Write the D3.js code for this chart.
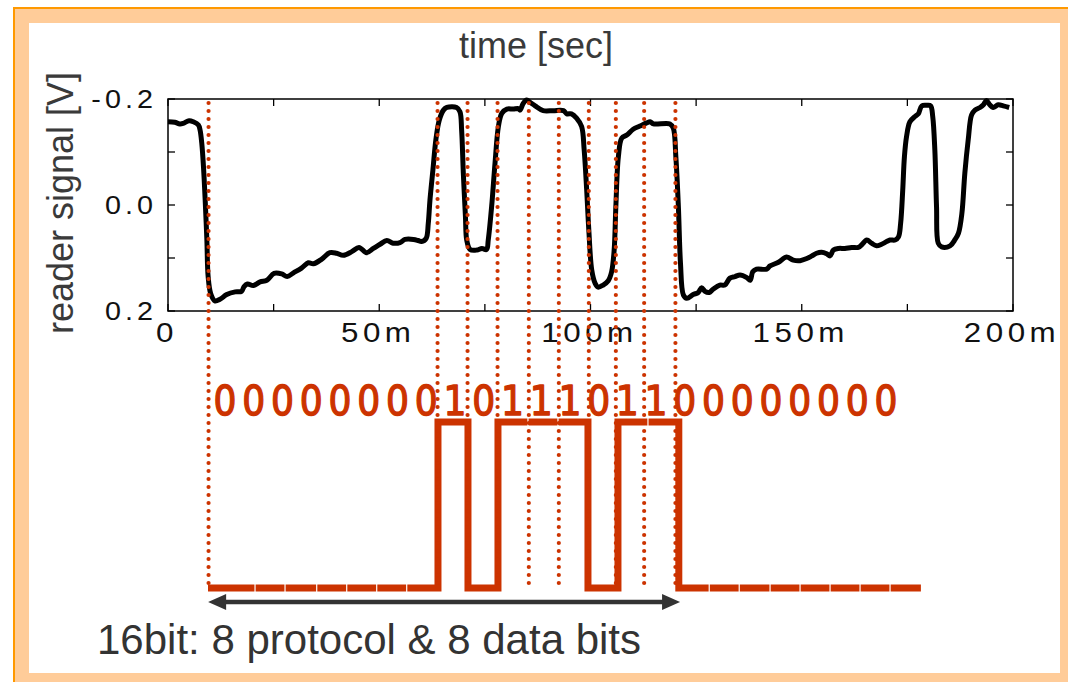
<!DOCTYPE html>
<html>
<head>
<meta charset="utf-8">
<script src="https://cdn.jsdelivr.net/npm/d3@7"></script>
<style>
  html, body { margin: 0; padding: 0; background: #ffffff; }
  svg { display: block; }
</style>
</head>
<body>
<div id="chart"></div>
<script>
// ---------------- DATA ----------------
const signalTime = [0,1.6,2.8,3.6,5.0,6.0,7.2,7.6,8.0,8.4,8.8,9.2,9.5,10.1,11.1,12.3,13.9,15.9,17.4,18.0,18.8,20.2,21.8,23.4,25.1,26.9,28.2,29.7,31.6,33.2,34.4,36.4,38.3,39.9,41.5,43.5,45.2,47.0,48.6,50.2,51.8,53.3,54.9,56.1,58.1,59.2,60.0,61.1,61.6,62.0,62.7,63.4,64.2,65.2,66.0,68.3,69.1,69.5,69.9,70.4,70.7,71.5,73.1,74.3,75.4,75.8,76.6,77.4,78.2,79.0,80.2,81.7,82.9,83.3,84.1,84.9,85.8,86.9,88.8,91.2,93.6,94.4,95.5,96.7,97.9,98.5,99.1,99.6,100.3,101.1,101.8,103.0,104.2,105.0,105.6,106.0,106.6,107.4,108.6,110.1,111.7,113.3,114.1,114.9,118.8,119.6,120.2,120.8,121.3,122.0,122.8,124.3,125.5,126.3,127.1,128.1,129.0,130.6,131.8,133.0,134.2,135.4,137.0,137.8,138.4,139.3,141.7,142.5,144.5,146.4,148.0,149.6,151.2,152.4,153.5,154.7,155.9,156.7,157.5,158.7,160.2,161.8,163.4,164.2,165.4,166.5,167.7,168.9,170.1,170.9,172.1,172.9,173.4,173.9,174.3,174.8,175.6,176.8,177.6,178.4,179.6,180.5,181.0,181.5,181.9,182.3,183.1,185.1,186.3,187.1,187.9,188.6,189.4,190.2,191.0,192.2,193.0,193.7,194.5,195.3,196.5,197.7,199.1];
const signalVolt = [-0.157,-0.156,-0.153,-0.154,-0.159,-0.157,-0.151,-0.141,-0.116,-0.072,-0.009,0.066,0.135,0.167,0.181,0.178,0.169,0.164,0.163,0.154,0.149,0.152,0.145,0.142,0.129,0.130,0.135,0.128,0.119,0.109,0.111,0.102,0.090,0.091,0.095,0.088,0.080,0.090,0.082,0.074,0.067,0.072,0.071,0.065,0.065,0.067,0.069,0.063,0.035,-0.009,-0.066,-0.123,-0.160,-0.179,-0.184,-0.184,-0.176,-0.141,-0.060,0.022,0.066,0.084,0.085,0.082,0.084,0.066,0.003,-0.079,-0.148,-0.173,-0.181,-0.181,-0.182,-0.179,-0.192,-0.198,-0.193,-0.187,-0.178,-0.178,-0.178,-0.172,-0.172,-0.164,-0.148,-0.104,-0.028,0.047,0.123,0.148,0.155,0.151,0.143,0.126,0.085,0.003,-0.091,-0.126,-0.132,-0.143,-0.149,-0.155,-0.157,-0.153,-0.153,-0.145,-0.091,0.003,0.110,0.170,0.176,0.169,0.165,0.156,0.163,0.165,0.159,0.151,0.151,0.138,0.135,0.132,0.137,0.142,0.126,0.121,0.121,0.115,0.108,0.098,0.104,0.105,0.101,0.096,0.091,0.089,0.092,0.096,0.085,0.082,0.082,0.080,0.080,0.075,0.066,0.072,0.077,0.074,0.069,0.066,0.066,0.060,0.035,-0.028,-0.091,-0.129,-0.157,-0.167,-0.172,-0.187,-0.188,-0.187,-0.167,-0.104,0.003,0.072,0.079,0.077,0.065,0.053,0.016,-0.060,-0.123,-0.170,-0.179,-0.184,-0.189,-0.197,-0.189,-0.184,-0.189,-0.187,-0.184];

const xTickValues = [0, 50, 100, 150, 200];
const xTickLabels = ["0", "50m", "100m", "150m", "200m"];
const xMinorTicks = [25, 75, 125, 175];
const yTickValues = [-0.2, 0.0, 0.2];
const yTickLabels = ["-0.2", "0.0", "0.2"];
const yMinorTicks = [-0.1, 0.1];

// bit boundary markers (ms)
const markerTimes = [9.6, 63.8, 70.9, 78.0, 85.4, 92.5, 99.6, 106.0, 112.7, 120.1];
// square wave: segment edges (ms) and level of each segment
const waveEdges = [9.47, 20.6, 27.7, 35.2, 42.3, 49.4, 56.5, 63.9, 71.0, 78.1, 85.2, 92.3, 99.4, 106.5, 113.6, 120.9, 128.1, 135.2, 142.5, 149.6, 156.7, 163.8, 170.9, 178.2];
const waveLevels = [0,0,0,0,0,0,0,1,0,1,1,1,0,1,1,0,0,0,0,0,0,0,0];
const bitString = "000000001011101100000000";
const arrowSpan = [9.5, 121.2];

const titleText = "time [sec]";
const yLabelText = "reader signal [V]";
const captionText = "16bit: 8 protocol & 8 data bits";

// ---------------- LAYOUT ----------------
const W = 1068, H = 682;
const red = "#cc3300", dark = "#333333";

const svg = d3.select("#chart").append("svg")
  .attr("width", W).attr("height", H)
  .attr("viewBox", `0 0 ${W} ${H}`);

// frame
svg.append("rect").attr("x", 14).attr("y", 8).attr("width", W + 20).attr("height", H + 20)
  .attr("fill", "#ffcc99").attr("stroke", "#ff9900").attr("stroke-width", 2);
svg.append("rect").attr("x", 29).attr("y", 23).attr("width", 1060 - 29).attr("height", 673 - 23)
  .attr("fill", "#ffffff");

const plot = { l: 168, r: 1013, t: 99, b: 311 };
const x = d3.scaleLinear().domain([0, 200]).range([plot.l, plot.r]);
const y = d3.scaleLinear().domain([-0.2, 0.2]).range([plot.t, plot.b]);
const yWave = d3.scaleLinear().domain([0, 1]).range([588, 422]);
const charX = d3.scaleLinear().domain([0, bitString.length - 1]).range([225, 886]);

// title
svg.append("text").attr("x", 536).attr("y", 58).attr("text-anchor", "middle")
  .attr("font-family", "Liberation Sans, Arial, sans-serif").attr("font-size", 36)
  .attr("fill", "#3a3a3a").text(titleText);

// y label
svg.append("text")
  .attr("transform", "translate(73,203) rotate(-90)")
  .attr("text-anchor", "middle")
  .attr("font-family", "Liberation Sans, Arial, sans-serif").attr("font-size", 36)
  .attr("fill", "#3a3a3a").text(yLabelText);

// axes box
svg.append("rect").attr("x", plot.l).attr("y", plot.t)
  .attr("width", plot.r - plot.l).attr("height", plot.b - plot.t)
  .attr("fill", "none").attr("stroke", "#000").attr("stroke-width", 1.5);

// ticks (inward, all four sides)
const tickLen = 7;
const allX = xTickValues.concat(xMinorTicks);
const allY = yTickValues.concat(yMinorTicks);
const tg = svg.append("g").attr("stroke", "#000").attr("stroke-width", 1.3);
allX.forEach(v => {
  tg.append("line").attr("x1", x(v)).attr("x2", x(v)).attr("y1", plot.b).attr("y2", plot.b - tickLen);
  tg.append("line").attr("x1", x(v)).attr("x2", x(v)).attr("y1", plot.t).attr("y2", plot.t + tickLen);
});
allY.forEach(v => {
  tg.append("line").attr("y1", y(v)).attr("y2", y(v)).attr("x1", plot.l).attr("x2", plot.l + tickLen);
  tg.append("line").attr("y1", y(v)).attr("y2", y(v)).attr("x1", plot.r).attr("x2", plot.r - tickLen);
});

// x tick labels
xTickValues.forEach((v, i) => {
  svg.append("g").attr("transform", `translate(${x(v) - 1},342)`)
    .append("text").attr("transform", "scale(1.12,1)")
    .attr("text-anchor", "middle")
    .attr("font-family", "Liberation Sans, Arial, sans-serif").attr("font-size", 28)
    .attr("letter-spacing", 4).attr("fill", "#111").text(xTickLabels[i]);
});
// y tick labels
yTickValues.forEach((v, i) => {
  svg.append("g").attr("transform", `translate(157,${y(v) + 9})`)
    .append("text").attr("transform", "scale(1.15,1)")
    .attr("text-anchor", "end")
    .attr("font-family", "Liberation Sans, Arial, sans-serif").attr("font-size", 25)
    .attr("letter-spacing", 3.5).attr("fill", "#111").text(yTickLabels[i]);
});

// signal line
const line = d3.line().x(d => x(d[0])).y(d => y(d[1])).curve(d3.curveCatmullRom.alpha(0.5));
svg.append("path").datum(signalTime.map((t, i) => [t, signalVolt[i]]))
  .attr("d", line).attr("fill", "none").attr("stroke", "#000")
  .attr("stroke-width", 5).attr("stroke-linejoin", "round");

// square wave
const gap = 0.6;
const wg = svg.append("g").attr("fill", "none").attr("stroke", red).attr("stroke-width", 7)
  .attr("stroke-linejoin", "miter").attr("stroke-linecap", "butt");
let d = "";
waveLevels.forEach((lv, i) => {
  const xa = x(waveEdges[i]), xb = x(waveEdges[i + 1]);
  const prev = i > 0 ? waveLevels[i - 1] : null;
  const next = i < waveLevels.length - 1 ? waveLevels[i + 1] : null;
  const ya = yWave(lv);
  if (prev === null || prev === lv) {
    d += `M${xa + (prev === null ? 0 : gap)},${ya}`;
  }
  d += `L${next === lv ? xb - gap : xb},${ya}`;
  if (next !== null && next !== lv) {
    d += `L${xb},${yWave(next)}`;
  }
});
wg.append("path").attr("d", d);

// dotted marker lines
svg.append("g").selectAll("line").data(markerTimes).join("line")
  .attr("x1", t => x(t)).attr("x2", t => x(t))
  .attr("y1", 103).attr("y2", 588)
  .attr("stroke", red).attr("stroke-width", 4.2)
  .attr("stroke-linecap", "round").attr("stroke-dasharray", "0 8");

// bit text
svg.append("g").selectAll("g").data(bitString.split("")).join("g")
  .attr("transform", (c, i) => `translate(${charX(i)},415)`)
  .append("text").attr("transform", "scale(0.88,1)")
  .attr("text-anchor", "middle")
  .attr("font-family", "DejaVu Sans, sans-serif").attr("font-size", 41)
  .attr("stroke", red).attr("stroke-width", 1.4).attr("stroke-linejoin", "round")
  .attr("fill", red).text(c => c);

// arrow
const ax0 = x(arrowSpan[0]), ax1 = x(arrowSpan[1]), ay = 602;
svg.append("line").attr("x1", ax0 + 10).attr("x2", ax1 - 10).attr("y1", ay).attr("y2", ay)
  .attr("stroke", dark).attr("stroke-width", 4.5);
svg.append("path").attr("d", `M${ax0},${ay} L${ax0 + 18},${ay - 8} L${ax0 + 18},${ay + 8} Z`).attr("fill", dark);
svg.append("path").attr("d", `M${ax1},${ay} L${ax1 - 18},${ay - 8} L${ax1 - 18},${ay + 8} Z`).attr("fill", dark);

// caption
svg.append("text").attr("x", 97).attr("y", 654)
  .attr("font-family", "Liberation Sans, Arial, sans-serif").attr("font-size", 42)
  .attr("fill", dark).text(captionText);
</script>
</body>
</html>
